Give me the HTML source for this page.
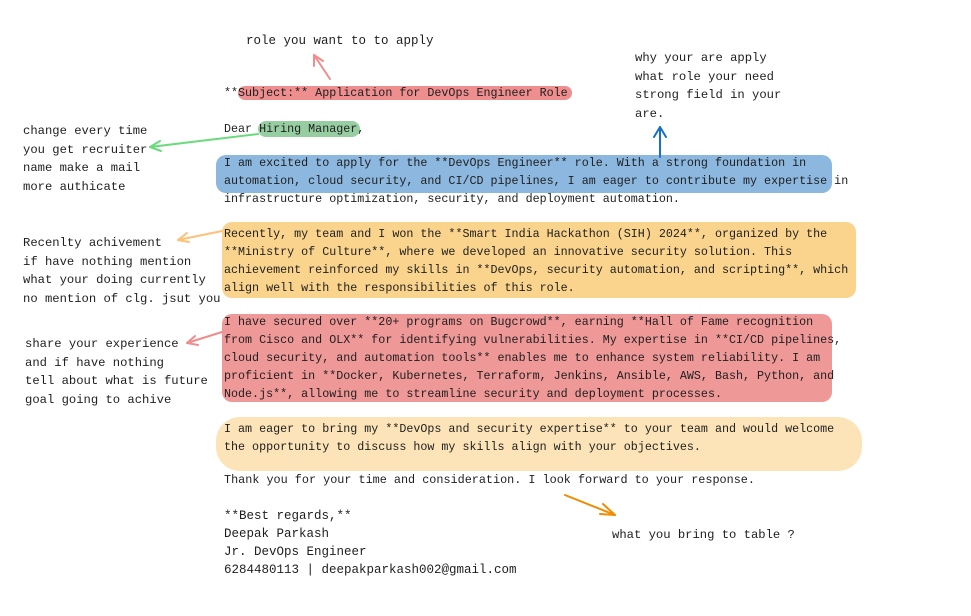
<!DOCTYPE html>
<html><head><meta charset="utf-8"><style>
body{margin:0;width:971px;height:616px;background:#fff;position:relative;overflow:hidden;font-family:"Liberation Mono",monospace;color:#1e1e1e}
.t{position:absolute;white-space:pre;font-size:11.7px;line-height:18px}
.l{position:absolute;white-space:pre;font-size:12.2px;line-height:18.5px}
.h{position:absolute;border-radius:10px}
</style></head><body>
<div class="h" style="left:238px;top:86px;width:334px;height:14px;background:rgba(224,49,49,.55)"></div>
<div class="h" style="left:258px;top:121px;width:102px;height:16px;background:rgba(47,158,68,.5)"></div>
<div class="h" style="left:216px;top:155px;width:616px;height:38px;background:rgba(25,113,194,.5)"></div>
<div class="h" style="left:222px;top:222px;width:634px;height:76px;background:rgba(245,159,0,.45)"></div>
<div class="h" style="left:222px;top:314px;width:610px;height:88px;background:rgba(224,49,49,.5)"></div>
<div class="h" style="left:216px;top:417px;width:646px;height:54px;background:rgba(245,159,0,.28);border-radius:24px"></div>

<div class="t" style="left:246px;top:32px;font-size:12.5px">role you want to to apply</div>
<div class="t" style="left:224px;top:84px">**Subject:** Application for DevOps Engineer Role</div>
<div class="t" style="left:224px;top:120px">Dear Hiring Manager,</div>
<div class="t" style="left:224px;top:154px">I am excited to apply for the **DevOps Engineer** role. With a strong foundation in
automation, cloud security, and CI/CD pipelines, I am eager to contribute my expertise in
infrastructure optimization, security, and deployment automation.</div>
<div class="t" style="left:224px;top:225px">Recently, my team and I won the **Smart India Hackathon (SIH) 2024**, organized by the
**Ministry of Culture**, where we developed an innovative security solution. This
achievement reinforced my skills in **DevOps, security automation, and scripting**, which
align well with the responsibilities of this role.</div>
<div class="t" style="left:224px;top:313px">I have secured over **20+ programs on Bugcrowd**, earning **Hall of Fame recognition
from Cisco and OLX** for identifying vulnerabilities. My expertise in **CI/CD pipelines,
cloud security, and automation tools** enables me to enhance system reliability. I am
proficient in **Docker, Kubernetes, Terraform, Jenkins, Ansible, AWS, Bash, Python, and
Node.js**, allowing me to streamline security and deployment processes.</div>
<div class="t" style="left:224px;top:420px">I am eager to bring my **DevOps and security expertise** to your team and would welcome
the opportunity to discuss how my skills align with your objectives.</div>
<div class="t" style="left:224px;top:471px;font-size:11.8px">Thank you for your time and consideration. I look forward to your response.</div>
<div class="t" style="left:224px;top:507px;font-size:12.5px">**Best regards,**
Deepak Parkash
Jr. DevOps Engineer
6284480113 | deepakparkash002@gmail.com</div>

<div class="l" style="left:23px;top:122px">change every time
you get recruiter
name make a mail
more authicate</div>
<div class="l" style="left:635px;top:49px">why your are apply
what role your need
strong field in your
are.</div>
<div class="l" style="left:23px;top:234px">Recenlty achivement
if have nothing mention
what your doing currently
no mention of clg. jsut you</div>
<div class="l" style="left:25px;top:335px">share your experience
and if have nothing
tell about what is future
goal going to achive</div>
<div class="l" style="left:612px;top:526px">what you bring to table ?</div>

<svg width="971" height="616" style="position:absolute;left:0;top:0" fill="none" stroke-width="2" stroke-linecap="round">
<g stroke="#f08c8c"><path d="M330 79 L314 55"/><path d="M314 55 L314 66 M314 55 L323 61"/></g>
<g stroke="#69db7c"><path d="M258 134 L150 147"/><path d="M150 147 L160 141 M150 147 L161 151"/></g>
<g stroke="#1971c2"><path d="M660 157 L660 127"/><path d="M660 127 L654 137 M660 127 L666 137"/></g>
<g stroke="#ffc078"><path d="M222 231 L178 240"/><path d="M178 240 L187 233 M178 240 L189 242"/></g>
<g stroke="#f08c8c"><path d="M222 332 L187 343"/><path d="M187 343 L195 336 M187 343 L198 345"/></g>
<g stroke="#f08c00"><path d="M565 495 L615 515"/><path d="M615 515 L603 504 M615 515 L600 514"/></g>
</svg>
</body></html>
